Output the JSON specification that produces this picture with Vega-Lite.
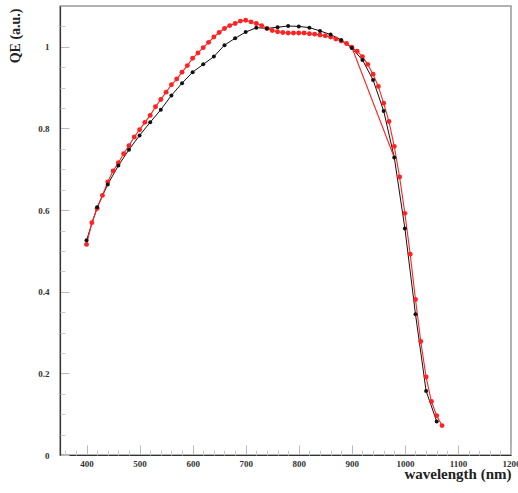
{
  "$schema": "https://vega.github.io/schema/vega-lite/v6.json",
  "width": 451,
  "height": 449,
  "autosize": {"type": "none"},
  "padding": {"left": 60, "top": 6, "right": 7, "bottom": 38},
  "background": "white",
  "config": {
    "view": {"stroke": "#999", "strokeWidth": 1.5},
    "font": "Liberation Serif"
  },
  "datasets": {
    "qe": [
      {"series": "black", "wl": 400, "qe": 0.526},
      {"series": "black", "wl": 420, "qe": 0.607},
      {"series": "black", "wl": 440, "qe": 0.663},
      {"series": "black", "wl": 460, "qe": 0.709},
      {"series": "black", "wl": 480, "qe": 0.748},
      {"series": "black", "wl": 500, "qe": 0.783},
      {"series": "black", "wl": 520, "qe": 0.815},
      {"series": "black", "wl": 540, "qe": 0.846},
      {"series": "black", "wl": 560, "qe": 0.881},
      {"series": "black", "wl": 580, "qe": 0.911},
      {"series": "black", "wl": 600, "qe": 0.938},
      {"series": "black", "wl": 620, "qe": 0.957},
      {"series": "black", "wl": 640, "qe": 0.976},
      {"series": "black", "wl": 660, "qe": 1.004},
      {"series": "black", "wl": 680, "qe": 1.021},
      {"series": "black", "wl": 700, "qe": 1.036},
      {"series": "black", "wl": 720, "qe": 1.047},
      {"series": "black", "wl": 740, "qe": 1.045},
      {"series": "black", "wl": 760, "qe": 1.048},
      {"series": "black", "wl": 780, "qe": 1.051},
      {"series": "black", "wl": 800, "qe": 1.05},
      {"series": "black", "wl": 820, "qe": 1.047},
      {"series": "black", "wl": 840, "qe": 1.039},
      {"series": "black", "wl": 860, "qe": 1.03},
      {"series": "black", "wl": 880, "qe": 1.017},
      {"series": "black", "wl": 900, "qe": 0.997},
      {"series": "black", "wl": 920, "qe": 0.968},
      {"series": "black", "wl": 940, "qe": 0.919},
      {"series": "black", "wl": 960, "qe": 0.843},
      {"series": "black", "wl": 980, "qe": 0.729},
      {"series": "black", "wl": 1000, "qe": 0.555},
      {"series": "black", "wl": 1020, "qe": 0.345},
      {"series": "black", "wl": 1040, "qe": 0.157},
      {"series": "black", "wl": 1060, "qe": 0.082},
      {"series": "red", "wl": 400, "qe": 0.516},
      {"series": "red", "wl": 410, "qe": 0.569},
      {"series": "red", "wl": 420, "qe": 0.604},
      {"series": "red", "wl": 430, "qe": 0.636},
      {"series": "red", "wl": 440, "qe": 0.669},
      {"series": "red", "wl": 450, "qe": 0.696},
      {"series": "red", "wl": 460, "qe": 0.716},
      {"series": "red", "wl": 470, "qe": 0.738},
      {"series": "red", "wl": 480, "qe": 0.758},
      {"series": "red", "wl": 490, "qe": 0.779},
      {"series": "red", "wl": 500, "qe": 0.797},
      {"series": "red", "wl": 510, "qe": 0.815},
      {"series": "red", "wl": 520, "qe": 0.832},
      {"series": "red", "wl": 530, "qe": 0.853},
      {"series": "red", "wl": 540, "qe": 0.871},
      {"series": "red", "wl": 550, "qe": 0.889},
      {"series": "red", "wl": 560, "qe": 0.907},
      {"series": "red", "wl": 570, "qe": 0.921},
      {"series": "red", "wl": 580, "qe": 0.938},
      {"series": "red", "wl": 590, "qe": 0.954},
      {"series": "red", "wl": 600, "qe": 0.972},
      {"series": "red", "wl": 610, "qe": 0.985},
      {"series": "red", "wl": 620, "qe": 0.998},
      {"series": "red", "wl": 630, "qe": 1.011},
      {"series": "red", "wl": 640, "qe": 1.024},
      {"series": "red", "wl": 650, "qe": 1.035},
      {"series": "red", "wl": 660, "qe": 1.045},
      {"series": "red", "wl": 670, "qe": 1.052},
      {"series": "red", "wl": 680, "qe": 1.057},
      {"series": "red", "wl": 690, "qe": 1.063},
      {"series": "red", "wl": 700, "qe": 1.065},
      {"series": "red", "wl": 710, "qe": 1.061},
      {"series": "red", "wl": 720, "qe": 1.057},
      {"series": "red", "wl": 730, "qe": 1.052},
      {"series": "red", "wl": 740, "qe": 1.045},
      {"series": "red", "wl": 750, "qe": 1.04},
      {"series": "red", "wl": 760, "qe": 1.037},
      {"series": "red", "wl": 770, "qe": 1.035},
      {"series": "red", "wl": 780, "qe": 1.034},
      {"series": "red", "wl": 790, "qe": 1.034},
      {"series": "red", "wl": 800, "qe": 1.034},
      {"series": "red", "wl": 810, "qe": 1.034},
      {"series": "red", "wl": 820, "qe": 1.032},
      {"series": "red", "wl": 830, "qe": 1.031},
      {"series": "red", "wl": 840, "qe": 1.029},
      {"series": "red", "wl": 850, "qe": 1.027},
      {"series": "red", "wl": 860, "qe": 1.024},
      {"series": "red", "wl": 870, "qe": 1.019},
      {"series": "red", "wl": 880, "qe": 1.014},
      {"series": "red", "wl": 890, "qe": 1.008},
      {"series": "red", "wl": 900, "qe": 0.999},
      {"series": "red", "wl": 910, "qe": 0.989},
      {"series": "red", "wl": 920, "qe": 0.976},
      {"series": "red", "wl": 930, "qe": 0.957},
      {"series": "red", "wl": 940, "qe": 0.933},
      {"series": "red", "wl": 950, "qe": 0.903},
      {"series": "red", "wl": 960, "qe": 0.862},
      {"series": "red", "wl": 970, "qe": 0.817},
      {"series": "red", "wl": 980, "qe": 0.756},
      {"series": "red", "wl": 990, "qe": 0.681},
      {"series": "red", "wl": 1000, "qe": 0.592},
      {"series": "red", "wl": 1010, "qe": 0.492},
      {"series": "red", "wl": 1020, "qe": 0.381},
      {"series": "red", "wl": 1030, "qe": 0.278},
      {"series": "red", "wl": 1040, "qe": 0.191},
      {"series": "red", "wl": 1050, "qe": 0.131},
      {"series": "red", "wl": 1060, "qe": 0.096},
      {"series": "red", "wl": 1070, "qe": 0.072}
    ],
    "jump": [
      {"wl": 900, "qe": 0.999, "wl2": 980, "qe2": 0.729}
    ]
  },
  "resolve": {"axis": {"x": "independent", "y": "independent"}},
  "layer": [
    {
      "encoding": {
        "x": {
          "field": "wl",
          "type": "quantitative",
          "scale": {"domain": [350, 1200], "nice": false, "zero": false},
          "axis": {
            "values": [400, 500, 600, 700, 800, 900, 1000, 1100, 1200],
            "format": "d",
            "grid": false,
            "domainColor": "#333",
            "domainWidth": 1.2,
            "tickSize": -10,
            "tickColor": "#bbb",
            "labelFont": "Liberation Serif",
            "labelFontWeight": "bold",
            "labelFontSize": 9,
            "labelColor": "#333",
            "labelBaseline": "middle",
            "labelPadding": 18.5,
            "labelFlush": false,
            "labelOverlap": false,
            "title": "wavelength (nm)",
            "titleFont": "Liberation Serif",
            "titleFontWeight": "bold",
            "titleFontSize": 15,
            "titleColor": "#222",
            "titleAnchor": "end",
            "titleAlign": "right",
            "titleBaseline": "alphabetic",
            "titleX": 451,
            "titleY": 23
          }
        },
        "y": {
          "field": "qe",
          "type": "quantitative",
          "scale": {"domain": [0, 1.1], "nice": false},
          "axis": {
            "values": [0, 0.2, 0.4, 0.6, 0.8, 1],
            "format": "~g",
            "grid": false,
            "domainColor": "#333",
            "domainWidth": 1.2,
            "tickSize": -9,
            "tickColor": "#bbb",
            "labelFont": "Liberation Serif",
            "labelFontWeight": "bold",
            "labelFontSize": 9,
            "labelColor": "#333",
            "labelPadding": 20,
            "labelFlush": false,
            "labelOverlap": false,
            "title": "QE (a.u.)",
            "titleFont": "Liberation Serif",
            "titleFontWeight": "bold",
            "titleFontSize": 14,
            "titleColor": "#222",
            "titleAngle": -90,
            "titleAlign": "right",
            "titleBaseline": "middle",
            "titleX": -45,
            "titleY": 2
          }
        }
      },
      "layer": [
        {
          "data": {"name": "qe"},
          "transform": [{"filter": "datum.series === 'black'"}],
          "mark": {"type": "line", "color": "#111", "strokeWidth": 1}
        },
        {
          "data": {"name": "qe"},
          "transform": [{"filter": "datum.series === 'red'"}],
          "mark": {"type": "line", "color": "#f22", "strokeWidth": 1.1}
        },
        {
          "data": {"name": "jump"},
          "mark": {"type": "rule", "color": "#f22", "strokeWidth": 1.1},
          "encoding": {
            "x2": {"field": "wl2"},
            "y2": {"field": "qe2"}
          }
        },
        {
          "data": {"name": "qe"},
          "transform": [{"filter": "datum.series === 'red'"}],
          "mark": {"type": "circle", "color": "#f22", "size": 24, "opacity": 1}
        },
        {
          "data": {"name": "qe"},
          "transform": [{"filter": "datum.series === 'black'"}],
          "mark": {"type": "circle", "color": "#111", "size": 16, "opacity": 1}
        }
      ]
    },
    {
      "data": {"name": "qe"},
      "mark": {"type": "circle", "opacity": 0},
      "encoding": {
        "x": {
          "field": "wl",
          "type": "quantitative",
          "axis": {
            "orient": "bottom",
            "values": [360, 380, 420, 440, 460, 480, 520, 540, 560, 580, 620, 640, 660, 680, 720, 740, 760, 780, 820, 840, 860, 880, 920, 940, 960, 980, 1020, 1040, 1060, 1080, 1120, 1140, 1160, 1180],
            "labels": false,
            "domain": false,
            "grid": false,
            "tickSize": -5,
            "tickColor": "#ccc",
            "title": null
          }
        },
        "y": {
          "field": "qe",
          "type": "quantitative",
          "axis": {
            "orient": "left",
            "values": [0.05, 0.1, 0.15, 0.25, 0.3, 0.35, 0.45, 0.5, 0.55, 0.65, 0.7, 0.75, 0.85, 0.9, 0.95, 1.05],
            "labels": false,
            "domain": false,
            "grid": false,
            "tickSize": -5,
            "tickColor": "#ccc",
            "title": null
          }
        }
      }
    }
  ]
}
